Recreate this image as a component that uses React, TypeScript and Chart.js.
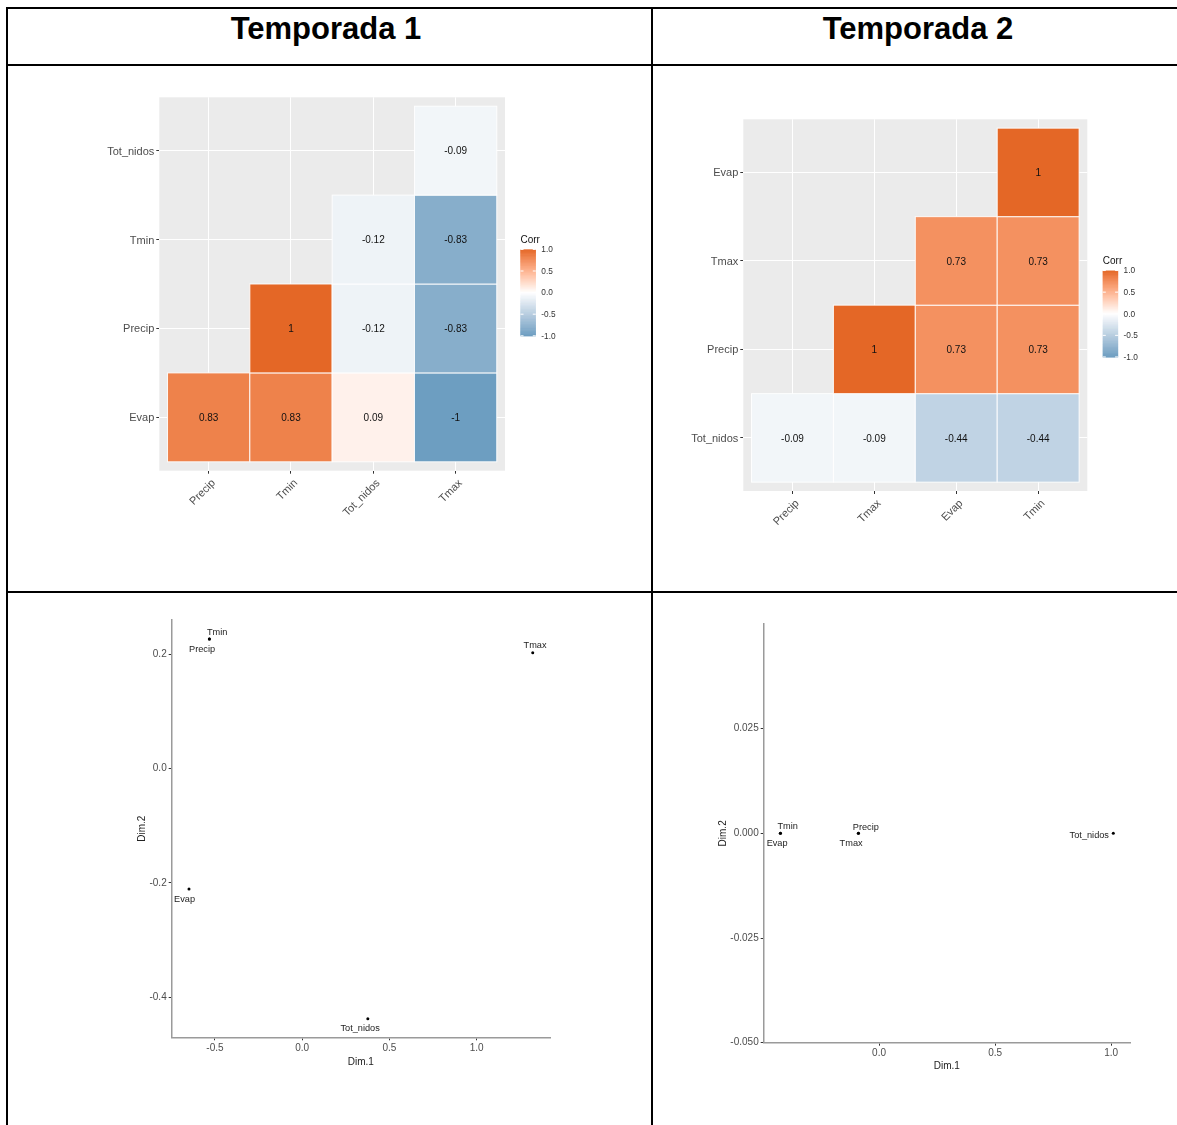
import React, { useEffect, useRef } from "react";
import { Chart, registerables } from "chart.js";

Chart.register(...registerables);

const FONT = "'Liberation Sans', Arial, Helvetica, sans-serif";

// ---------- Temporada 1: correlation heatmap ----------
const t1Cols = ["Precip", "Tmin", "Tot_nidos", "Tmax"];
const t1Rows = ["Evap", "Precip", "Tmin", "Tot_nidos"]; // bottom -> top
const t1EvapRow = [0.83, 0.83, 0.09, -1];
const t1PrecipRow = [null, 1, -0.12, -0.83];
const t1TminRow = [null, null, -0.12, -0.83];
const t1TotNidosRow = [null, null, null, -0.09];

// ---------- Temporada 2: correlation heatmap ----------
const t2Cols = ["Precip", "Tmax", "Evap", "Tmin"];
const t2Rows = ["Tot_nidos", "Precip", "Tmax", "Evap"]; // bottom -> top
const t2TotNidosRow = [-0.09, -0.09, -0.44, -0.44];
const t2PrecipRow = [null, 1, 0.73, 0.73];
const t2TmaxRow = [null, null, 0.73, 0.73];
const t2EvapRow = [null, null, null, 1];

const corrLegendTicks = [1, 0.5, 0, -0.5, -1];
const corrLow = "#6D9EC1";
const corrMid = "#FFFFFF";
const corrHigh = "#E46726";

// ---------- Temporada 1: MDS ----------
const s1Names = ["Tmin", "Precip", "Tmax", "Evap", "Tot_nidos"];
const s1Dim1 = [-0.532, -0.532, 1.321, -0.649, 0.376];
const s1Dim2 = [0.227, 0.227, 0.203, -0.211, -0.438];
const s1XTicks = [-0.5, 0, 0.5, 1];
const s1YTicks = [-0.4, -0.2, 0, 0.2];
const s1XRange = [-0.748, 1.42];
const s1YRange = [-0.4705, 0.2603];

// ---------- Temporada 2: MDS ----------
const s2Names = ["Tmin", "Evap", "Precip", "Tmax", "Tot_nidos"];
const s2Dim1 = [-0.425, -0.425, -0.089, -0.089, 1.009];
const s2Dim2 = [0, 0, 0, 0, 0];
const s2XTicks = [0, 0.5, 1];
const s2YTicks = [-0.05, -0.025, 0, 0.025];
const s2XRange = [-0.497, 1.081];
const s2YRange = [-0.05, 0.05];

// label offsets in px (style, not data)
const s1LabelOffsets = [[7.7, -6.7], [-7.3, 10.3], [2.3, -7.4], [-4.4, 10.7], [-7.7, 9.3]];
const s2LabelOffsets = [[7.3, -6.7], [-3.3, 10], [7.4, -6], [-7.3, 10], [-24, 2]];

// ---------- colour helpers (Lab interpolation like ggplot) ----------
function hexToRgb(h: string) {
  const n = parseInt(h.slice(1), 16);
  return [(n >> 16) & 255, (n >> 8) & 255, n & 255];
}
function toLin(c: number) {
  c /= 255;
  return c <= 0.04045 ? c / 12.92 : Math.pow((c + 0.055) / 1.055, 2.4);
}
function fromLin(c: number) {
  const v = c <= 0.0031308 ? 12.92 * c : 1.055 * Math.pow(c, 1 / 2.4) - 0.055;
  return Math.round(Math.max(0, Math.min(1, v)) * 255);
}
function rgbToLab(rgb: number[]) {
  const R = toLin(rgb[0]), G = toLin(rgb[1]), B = toLin(rgb[2]);
  const X = (0.4124 * R + 0.3576 * G + 0.1805 * B) / 0.95047;
  const Y = 0.2126 * R + 0.7152 * G + 0.0722 * B;
  const Z = (0.0193 * R + 0.1192 * G + 0.9505 * B) / 1.08883;
  const f = (t: number) => (t > 0.008856 ? Math.cbrt(t) : 7.787 * t + 16 / 116);
  const fx = f(X), fy = f(Y), fz = f(Z);
  return [116 * fy - 16, 500 * (fx - fy), 200 * (fy - fz)];
}
function labToRgb(lab: number[]) {
  const fy = (lab[0] + 16) / 116;
  const fx = fy + lab[1] / 500;
  const fz = fy - lab[2] / 200;
  const inv = (t: number) => (t * t * t > 0.008856 ? t * t * t : (t - 16 / 116) / 7.787);
  const X = inv(fx) * 0.95047, Y = inv(fy), Z = inv(fz) * 1.08883;
  const R = 3.2406 * X - 1.5372 * Y - 0.4986 * Z;
  const G = -0.9689 * X + 1.8758 * Y + 0.0415 * Z;
  const B = 0.0557 * X - 0.204 * Y + 1.057 * Z;
  return `rgb(${fromLin(R)},${fromLin(G)},${fromLin(B)})`;
}
const labLow = rgbToLab(hexToRgb(corrLow));
const labMid = rgbToLab(hexToRgb(corrMid));
const labHigh = rgbToLab(hexToRgb(corrHigh));
function corrColor(v: number) {
  const t = Math.min(1, Math.abs(v));
  const end = v < 0 ? labLow : labHigh;
  return labToRgb(labMid.map((m, i) => m + (end[i] - m) * t));
}

// ---------- chart configs ----------
type Geom = { width: number; height: number; padL: number; padR: number; padT: number; padB: number; yW: number; xH: number };

function heatmapConfig(cols: string[], rows: string[], matrix: (number | null)[][], g: Geom) {
  const cells: { x: number; y: number; v: number }[] = [];
  matrix.forEach((row, ri) =>
    row.forEach((v, ci) => {
      if (v !== null) cells.push({ x: ci + 1, y: ri + 1, v });
    })
  );
  const axisText = { font: { family: FONT, size: 11 }, color: "#4D4D4D" };
  const plugin = {
    id: "heatcells",
    beforeDraw(chart: any) {
      const { ctx, chartArea: a } = chart;
      ctx.save();
      ctx.fillStyle = "#EBEBEB";
      ctx.fillRect(a.left, a.top, a.right - a.left, a.bottom - a.top);
      ctx.restore();
    },
    afterDatasetsDraw(chart: any) {
      const { ctx } = chart;
      const xs = chart.scales.x, ys = chart.scales.y;
      ctx.save();
      cells.forEach((c) => {
        const x0 = xs.getPixelForValue(c.x - 0.5), x1 = xs.getPixelForValue(c.x + 0.5);
        const y0 = ys.getPixelForValue(c.y + 0.5), y1 = ys.getPixelForValue(c.y - 0.5);
        ctx.fillStyle = corrColor(c.v);
        ctx.fillRect(x0, y0, x1 - x0, y1 - y0);
        ctx.strokeStyle = "rgba(255,255,255,0.9)";
        ctx.lineWidth = 1;
        ctx.strokeRect(x0, y0, x1 - x0, y1 - y0);
      });
      ctx.fillStyle = "#111";
      ctx.font = `10px ${FONT}`;
      ctx.textAlign = "center";
      ctx.textBaseline = "middle";
      cells.forEach((c) => {
        ctx.fillText(String(c.v), xs.getPixelForValue(c.x), ys.getPixelForValue(c.y) + 1);
      });
      ctx.restore();
    },
    afterDraw(chart: any) {
      const { ctx, chartArea: a } = chart;
      const barL = a.right + 15.5;
      const barW = 15.3;
      const barH = 86.4;
      const barT = (a.top + a.bottom) / 2 + 8.6 - barH / 2;
      ctx.save();
      const n = 200;
      for (let i = 0; i < n; i++) {
        const v = 1 - (2 * (i + 0.5)) / n;
        ctx.fillStyle = corrColor(v);
        ctx.fillRect(barL, barT + (i * barH) / n, barW, barH / n + 0.6);
      }
      ctx.strokeStyle = "#fff";
      ctx.lineWidth = 1;
      ctx.font = `8.3px ${FONT}`;
      ctx.textAlign = "left";
      ctx.textBaseline = "middle";
      corrLegendTicks.forEach((v) => {
        const y = barT + ((1 - v) / 2) * barH;
        ctx.beginPath();
        ctx.moveTo(barL, y);
        ctx.lineTo(barL + 3, y);
        ctx.moveTo(barL + barW - 3, y);
        ctx.lineTo(barL + barW, y);
        ctx.stroke();
        ctx.fillStyle = "#333";
        ctx.fillText(v.toFixed(1), barL + barW + 5.5, y + 0.5);
      });
      ctx.fillStyle = "#111";
      ctx.font = `10px ${FONT}`;
      ctx.fillText("Corr", barL, barT - 9.3);
      ctx.restore();
    },
  };
  return {
    type: "scatter",
    data: { datasets: [{ data: cells.map((c) => ({ x: c.x, y: c.y })), pointRadius: 0 }] },
    options: {
      responsive: false,
      animation: false,
      events: [],
      layout: { padding: { left: g.padL, right: g.padR, top: g.padT, bottom: g.padB } },
      plugins: { legend: { display: false }, tooltip: { enabled: false } },
      scales: {
        x: {
          type: "linear",
          min: 0.4,
          max: 4.6,
          afterBuildTicks: (s: any) => {
            s.ticks = cols.map((_, i) => ({ value: i + 1 }));
          },
          afterFit: (s: any) => {
            s.height = g.xH;
          },
          ticks: {
            ...axisText,
            autoSkip: false,
            minRotation: 45,
            maxRotation: 45,
            padding: 3,
            labelOffset: 5,
            callback: (_v: any, i: number) => cols[i],
          },
          grid: { color: "#FFFFFF", lineWidth: 1, tickColor: "#333333", tickLength: 3 },
          border: { display: false },
        },
        y: {
          type: "linear",
          min: 0.4,
          max: 4.6,
          afterBuildTicks: (s: any) => {
            s.ticks = rows.map((_, i) => ({ value: i + 1 }));
          },
          afterFit: (s: any) => {
            s.width = g.yW;
          },
          ticks: {
            ...axisText,
            autoSkip: false,
            padding: 2,
            labelOffset: 1,
            callback: (_v: any, i: number) => rows[i],
          },
          grid: { color: "#FFFFFF", lineWidth: 1, tickColor: "#333333", tickLength: 3 },
          border: { display: false },
        },
      },
    },
    plugins: [plugin],
  };
}

function scatterConfig(
  names: string[],
  xs: number[],
  ys: number[],
  offsets: number[][],
  xTicks: number[],
  yTicks: number[],
  xRange: number[],
  yRange: number[],
  yDigits: number,
  g: Geom
) {
  const tickText = { font: { family: FONT, size: 10 }, color: "#4D4D4D" };
  const titleFont = { family: FONT, size: 10 };
  const plugin = {
    id: "pointlabels",
    afterDatasetsDraw(chart: any) {
      const { ctx } = chart;
      const meta = chart.getDatasetMeta(0);
      ctx.save();
      ctx.fillStyle = "#222";
      ctx.font = `9.2px ${FONT}`;
      ctx.textAlign = "center";
      ctx.textBaseline = "middle";
      meta.data.forEach((pt: any, i: number) => {
        ctx.fillText(names[i], pt.x + offsets[i][0], pt.y + offsets[i][1]);
      });
      ctx.restore();
    },
  };
  return {
    type: "scatter",
    data: {
      datasets: [
        {
          data: xs.map((x, i) => ({ x, y: ys[i] })),
          pointRadius: 1.5,
          pointBackgroundColor: "#000",
          pointBorderWidth: 0,
        },
      ],
    },
    options: {
      responsive: false,
      animation: false,
      events: [],
      layout: { padding: { left: g.padL, right: g.padR, top: g.padT, bottom: g.padB } },
      plugins: { legend: { display: false }, tooltip: { enabled: false } },
      scales: {
        x: {
          type: "linear",
          min: xRange[0],
          max: xRange[1],
          afterBuildTicks: (s: any) => {
            s.ticks = xTicks.map((v) => ({ value: v }));
          },
          afterFit: (s: any) => {
            s.height = g.xH;
          },
          ticks: { ...tickText, padding: 2, maxRotation: 0, autoSkip: false, callback: (v: any) => Number(v).toFixed(1) },
          grid: { drawOnChartArea: false, drawTicks: true, tickLength: 3, tickColor: "#333" },
          border: { display: true, color: "#9a9a9a", width: 1.5 },
          title: { display: true, text: "Dim.1", font: titleFont, color: "#222", padding: 0 },
        },
        y: {
          type: "linear",
          min: yRange[0],
          max: yRange[1],
          afterBuildTicks: (s: any) => {
            s.ticks = yTicks.map((v) => ({ value: v }));
          },
          afterFit: (s: any) => {
            s.width = g.yW;
          },
          ticks: { ...tickText, padding: 2, autoSkip: false, callback: (v: any) => Number(v).toFixed(yDigits) },
          grid: { drawOnChartArea: false, drawTicks: true, tickLength: 3, tickColor: "#333" },
          border: { display: true, color: "#9a9a9a", width: 1.5 },
          title: { display: true, text: "Dim.2", font: titleFont, color: "#222", padding: 0 },
        },
      },
    },
    plugins: [plugin],
  };
}

function ChartBox({ left, top, g, make }: { left: number; top: number; g: Geom; make: () => any }) {
  const ref = useRef<HTMLCanvasElement>(null);
  useEffect(() => {
    const chart = new Chart(ref.current as HTMLCanvasElement, make());
    return () => chart.destroy();
  }, []);
  return (
    <canvas
      ref={ref}
      width={g.width}
      height={g.height}
      style={{ position: "absolute", left, top, width: g.width, height: g.height }}
    />
  );
}

const hm1Geom: Geom = { width: 520, height: 480, padL: 0, padR: 75, padT: 17.3, padB: 0, yW: 99.3, xH: 89.3 };
const hm2Geom: Geom = { width: 510, height: 470, padL: 0, padR: 82.7, padT: 19.3, padB: 0, yW: 83.3, xH: 79 };
const sc1Geom: Geom = { width: 480, height: 500, padL: 36.7, padR: 30, padT: 20, padB: 31.3, yW: 35, xH: 31.4 };
const sc2Geom: Geom = { width: 480, height: 500, padL: 37.3, padR: 30, padT: 24, padB: 27.3, yW: 46.4, xH: 30 };

const line = (l: number, t: number, w: number, h: number) => (
  <div style={{ position: "absolute", left: l, top: t, width: w, height: h, background: "#000" }} />
);

export default function App() {
  const header: React.CSSProperties = {
    position: "absolute",
    top: 12.5,
    fontFamily: FONT,
    fontWeight: "bold",
    fontSize: 31,
    lineHeight: "31px",
    textAlign: "center",
    color: "#000",
    whiteSpace: "nowrap",
  };
  return (
    <div
      style={{
        position: "absolute",
        left: 0,
        top: 0,
        width: 1177,
        height: 1125,
        overflow: "hidden",
        background: "#fff",
      }}
    >
      {line(6, 7, 1300, 2)}
      {line(6, 63.5, 1300, 2.2)}
      {line(6, 591, 1300, 2.2)}
      {line(6, 7, 2, 1300)}
      {line(651, 7, 2, 1300)}
      <div style={{ ...header, left: 126, width: 400 }}>Temporada 1</div>
      <div style={{ ...header, left: 718, width: 400 }}>Temporada 2</div>

      <ChartBox
        left={60}
        top={80}
        g={hm1Geom}
        make={() =>
          heatmapConfig(t1Cols, t1Rows, [t1EvapRow, t1PrecipRow, t1TminRow, t1TotNidosRow], hm1Geom)
        }
      />
      <ChartBox
        left={660}
        top={100}
        g={hm2Geom}
        make={() =>
          heatmapConfig(t2Cols, t2Rows, [t2TotNidosRow, t2PrecipRow, t2TmaxRow, t2EvapRow], hm2Geom)
        }
      />
      <ChartBox
        left={100}
        top={600}
        g={sc1Geom}
        make={() =>
          scatterConfig(s1Names, s1Dim1, s1Dim2, s1LabelOffsets, s1XTicks, s1YTicks, s1XRange, s1YRange, 1, sc1Geom)
        }
      />
      <ChartBox
        left={680}
        top={600}
        g={sc2Geom}
        make={() =>
          scatterConfig(s2Names, s2Dim1, s2Dim2, s2LabelOffsets, s2XTicks, s2YTicks, s2XRange, s2YRange, 3, sc2Geom)
        }
      />
    </div>
  );
}
